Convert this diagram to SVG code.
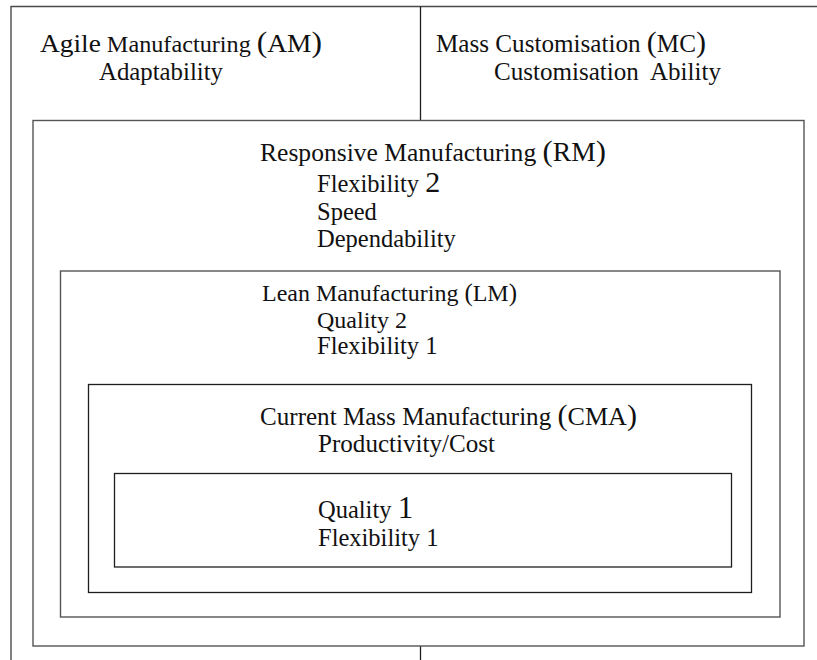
<svg xmlns="http://www.w3.org/2000/svg" width="817" height="660" viewBox="0 0 817 660">
<style>
  text { font-family: "Liberation Serif", "Times New Roman", serif; font-size: 24.5px; fill: #111; white-space: pre; }
  .head { font-size: 25px; }
  .frame { stroke: #4a4a4a; stroke-width: 1.4; fill: none; }
  .box { stroke: #555; stroke-width: 1.4; fill: none; }
  .box2 { stroke: #1e1e1e; stroke-width: 1.3; fill: none; }
  .par { font-size: 30px; }
  .big { font-size: 30px; }
</style>
<rect width="817" height="660" fill="#fff"/>
<g id="frame">
  <line class="frame" x1="10.5" y1="6.5" x2="817" y2="6.5"/>
  <line class="frame" x1="11" y1="6.5" x2="11" y2="660"/>
  <line class="box2" x1="420.5" y1="6.5" x2="420.5" y2="120.5"/>
  <line class="box2" x1="420.5" y1="646" x2="420.5" y2="660"/>
</g>
<g id="am">
  <text x="40" y="52" textLength="282" lengthAdjust="spacingAndGlyphs"><tspan style="font-size:26px">Agile</tspan><tspan style="font-size:23px"> Manufacturing </tspan><tspan class="par">(</tspan><tspan style="font-size:26px">AM</tspan><tspan class="par">)</tspan></text>
  <text x="99" y="80" textLength="124" lengthAdjust="spacingAndGlyphs">Adaptability</text>
</g>
<g id="mc">
  <text x="436" y="52" class="head" textLength="270" lengthAdjust="spacingAndGlyphs">Mass Customisation <tspan class="par">(</tspan>MC<tspan class="par">)</tspan></text>
  <text x="494" y="80" textLength="227" lengthAdjust="spacingAndGlyphs">Customisation  Ability</text>
</g>
<g id="rm">
  <rect class="box" x="33" y="120.5" width="771" height="525.5"/>
  <text x="260" y="161" class="head" textLength="346" lengthAdjust="spacingAndGlyphs">Responsive Manufacturing <tspan class="par">(</tspan><tspan style="font-size:27px">RM</tspan><tspan class="par">)</tspan></text>
  <text x="317" y="192">Flexibility <tspan class="big">2</tspan></text>
  <text x="317" y="220">Speed</text>
  <text x="317" y="247">Dependability</text>
</g>
<g id="lm">
  <rect class="box" x="60.5" y="271" width="719.5" height="346"/>
  <text x="262" y="301" style="font-size:24px" textLength="255" lengthAdjust="spacingAndGlyphs">Lean Manufacturing <tspan style="font-size:25px">(</tspan>LM<tspan style="font-size:25px">)</tspan></text>
  <text x="317" y="328" style="font-size:24px">Quality 2</text>
  <text x="317" y="354">Flexibility 1</text>
</g>
<g id="cma">
  <rect class="box2" x="88.5" y="384.5" width="663" height="208"/>
  <text x="260" y="425" class="head" textLength="377" lengthAdjust="spacingAndGlyphs">Current Mass Manufacturing <tspan class="par">(</tspan><tspan style="font-size:26px">CMA</tspan><tspan class="par">)</tspan></text>
  <text x="318" y="452" textLength="177" lengthAdjust="spacingAndGlyphs">Productivity/Cost</text>
</g>
<g id="core">
  <rect class="box2" x="114.5" y="473.5" width="617" height="93.5"/>
  <text x="318" y="518">Quality <tspan style="font-size:31px">1</tspan></text>
  <text x="318" y="546">Flexibility 1</text>
</g>
</svg>
